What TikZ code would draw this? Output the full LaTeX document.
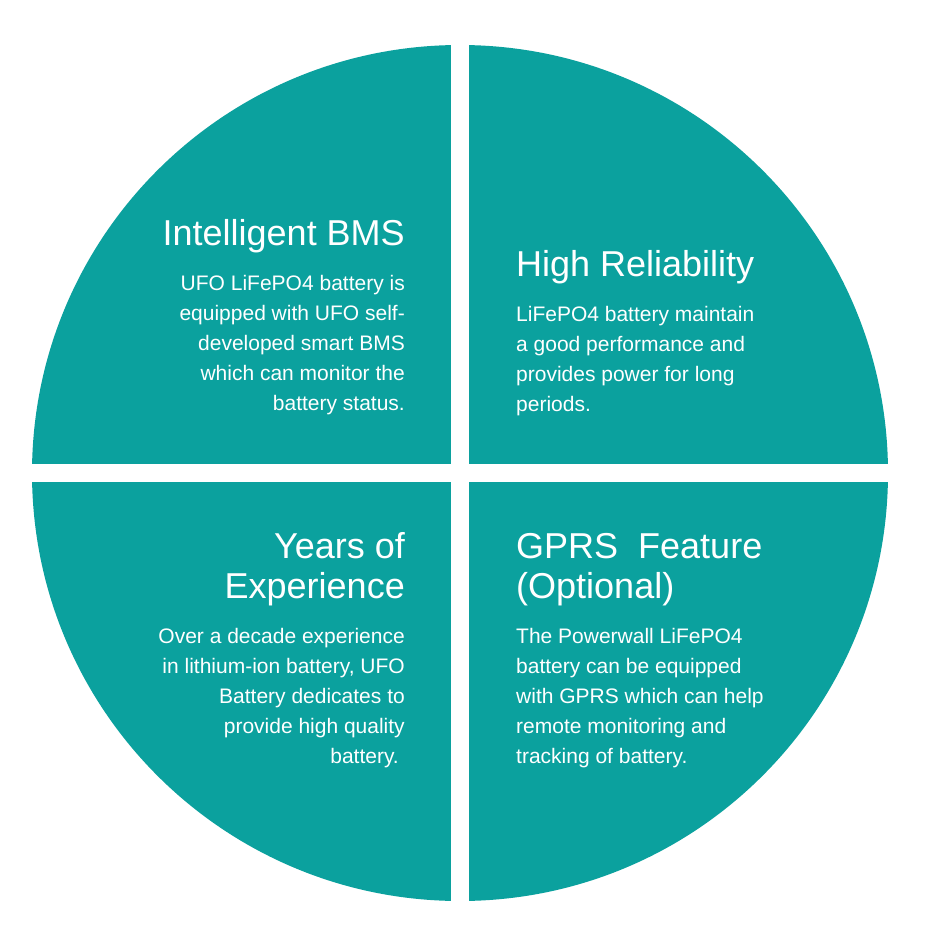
\documentclass[tikz,border=0pt]{standalone}
\usepackage{fontspec}
\setmainfont{Liberation Sans}
\definecolor{teal1}{RGB}{11,161,158}
\begin{document}
\begin{tikzpicture}[x=1pt,y=-1pt,
  quad/.style={fill=teal1,draw=none},
  ttl/.style={text=white,inner sep=0pt,font=\fontsize{36}{40}\selectfont},
  body/.style={text=white,inner sep=0pt,font=\fontsize{21}{30}\selectfont},
  re/.style={anchor=base east},
  le/.style={anchor=base west}]
\useasboundingbox (0,0) rectangle (928,928);
\begin{scope}
  \clip (460,473) circle [radius=428];
  \fill[quad] (0,0) rectangle (451,464);
  \fill[quad] (469,0) rectangle (928,464);
  \fill[quad] (0,482) rectangle (451,928);
  \fill[quad] (469,482) rectangle (928,928);
\end{scope}
% top left
\node[ttl,re] (tlt) at (405,245.5) {Intelligent BMS};
\foreach \t [count=\i] in {UFO LiFePO4 battery is,equipped with UFO self-,developed smart BMS,which can monitor the,battery status.}
  \node[body,re] (tlb\i) at (405,260+30*\i) {\t};
% top right
\node[ttl,le] (trt) at (516,276) {High Reliability};
\foreach \t [count=\i] in {LiFePO4 battery maintain,a good performance and,provides power for long,periods.}
  \node[body,le] (trb\i) at (516,291+30*\i) {\t};
% bottom left
\node[ttl,re] (blt1) at (405,558) {Years of};
\node[ttl,re] (blt2) at (405,598) {Experience};
\foreach \t [count=\i] in {Over a decade experience,{in lithium-ion battery, UFO},Battery dedicates to,provide high quality,battery.\kern6pt}
  \node[body,re] (blb\i) at (405,613+30*\i) {\t};
% bottom right
\node[ttl,le] (brt1) at (516,558) {GPRS\ \ Feature};
\node[ttl,le] (brt2) at (516,598) {(Optional)};
\foreach \t [count=\i] in {The Powerwall LiFePO4,battery can be equipped,with GPRS which can help,remote monitoring and,tracking of battery.}
  \node[body,le] (brb\i) at (516,613+30*\i) {\t};
\end{tikzpicture}
\end{document}
